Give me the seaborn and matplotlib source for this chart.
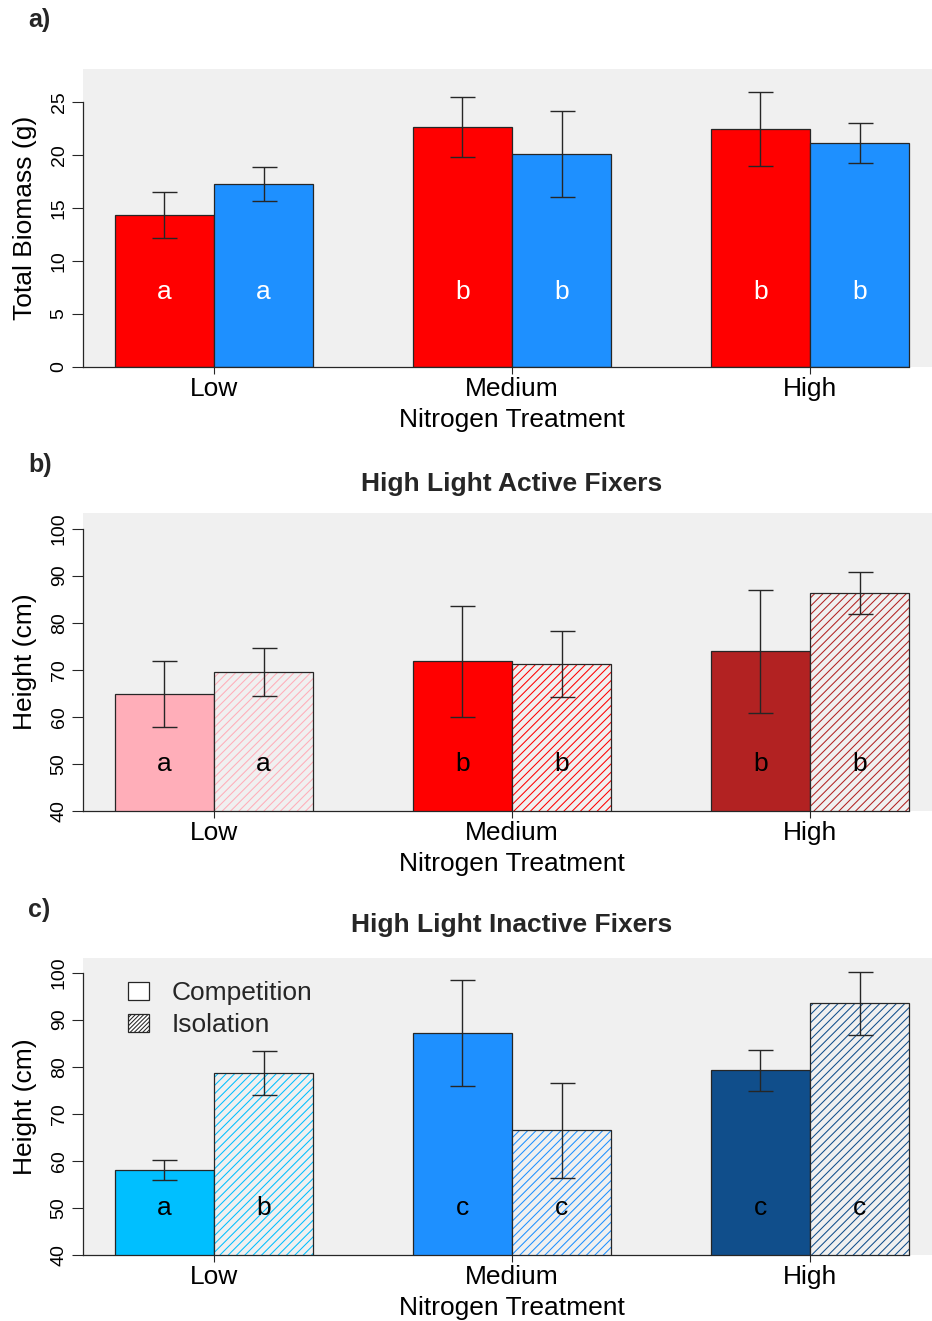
import numpy as np
import pandas as pd
import matplotlib
matplotlib.use("Agg")
import matplotlib.pyplot as plt
from matplotlib.colors import to_rgba
from matplotlib.patches import Patch
import seaborn as sns

# ---------------------------------------------------------------- data
nitrogen = ["Low", "Medium", "High"]

# a) total biomass (g), means and standard errors
biomass_groups = ["Active", "Inactive"]
biomass_active = [14.3, 22.6, 22.4]
biomass_active_se = [2.2, 2.85, 3.5]
biomass_inactive = [17.2, 20.1, 21.1]
biomass_inactive_se = [1.6, 4.05, 1.9]
biomass_letters_active = ["a", "b", "b"]
biomass_letters_inactive = ["a", "b", "b"]

# b) high light active fixers, height (cm)
treatments = ["Competition", "Isolation"]
active_comp = [64.9, 71.8, 73.9]
active_comp_se = [7.0, 11.8, 13.0]
active_iso = [69.6, 71.3, 86.3]
active_iso_se = [5.1, 7.0, 4.4]
active_letters_comp = ["a", "b", "b"]
active_letters_iso = ["a", "b", "b"]

# c) high light inactive fixers, height (cm)
inactive_comp = [58.1, 87.2, 79.2]
inactive_comp_se = [2.15, 11.2, 4.4]
inactive_iso = [78.7, 66.5, 93.5]
inactive_iso_se = [4.7, 10.1, 6.7]
inactive_letters_comp = ["a", "c", "c"]
inactive_letters_iso = ["b", "c", "c"]

# ---------------------------------------------------------------- style
BG = "#F0F0F0"
INK = "#262626"
FONT = ["Liberation Sans", "DejaVu Sans"]
FS = 19

sns.set_theme(style="white")
plt.rcParams["font.family"] = FONT
plt.rcParams["hatch.linewidth"] = 0.75
plt.rcParams["axes.linewidth"] = 0.9

fig = plt.figure(figsize=(9.32, 13.21), dpi=100)

W, H = 932.0, 1321.0
LEFT_PX, RIGHT_PX = 83.0, 941.0


def make_axes(top_px, bottom_px):
    return fig.add_axes([LEFT_PX / W, 1 - bottom_px / H,
                         (RIGHT_PX - LEFT_PX) / W, (bottom_px - top_px) / H])


def set_hatch_color(bar, color):
    if hasattr(bar, "set_hatchcolor"):
        bar.set_hatchcolor(color)
    else:
        bar._hatch_color = to_rgba(color)
    bar.stale = True


def draw_panel(ax, comp, comp_se, iso, iso_se, comp_colors, iso_colors,
               hatched, letters_c, letters_i, letter_color, letter_y,
               ylim, yticks, ylabel, hue_names):
    df = pd.DataFrame({
        "Nitrogen": nitrogen * 2,
        "Group": [hue_names[0]] * 3 + [hue_names[1]] * 3,
        "Value": list(comp) + list(iso),
    })
    sns.barplot(data=df, x="Nitrogen", y="Value", hue="Group",
                order=nitrogen, hue_order=hue_names, width=2 / 3, gap=0,
                errorbar=None, palette=[comp_colors[0], iso_colors[0]],
                saturation=1, edgecolor=INK, linewidth=0.9, legend=False,
                ax=ax)
    ax.set_facecolor(BG)

    for cont, colors, errs, letters, hatch in zip(
            ax.containers, [comp_colors, iso_colors], [comp_se, iso_se],
            [letters_c, letters_i], [False, hatched]):
        xs, ys = [], []
        for bar, col, lab in zip(cont.patches, colors, letters):
            cx = bar.get_x() + bar.get_width() / 2
            if hatch:
                bar.set_facecolor(BG)
                bar.set_hatch("////")
                bar.set_edgecolor(INK)
                set_hatch_color(bar, col)
            else:
                bar.set_facecolor(col)
            xs.append(cx)
            ys.append(bar.get_height())
            ax.text(cx, letter_y, lab, ha="center", va="center",
                    fontsize=FS, color=letter_color, zorder=5)
        ax.errorbar(xs, ys, yerr=errs, fmt="none", ecolor=INK,
                    elinewidth=1.0, capsize=9, capthick=1.0, zorder=6)

    ax.set_xlim(-0.44, 2.44)
    ax.set_ylim(*ylim)
    ax.set_yticks(yticks)
    ax.set_yticklabels([str(t) for t in yticks])
    for s in ("top", "right"):
        ax.spines[s].set_visible(False)
    ax.spines["left"].set_bounds(yticks[0], yticks[-1])
    last = ax.containers[1].patches[-1]
    ax.spines["bottom"].set_bounds(-0.44, last.get_x() + last.get_width())
    for s in ("left", "bottom"):
        ax.spines[s].set_color(INK)
        ax.spines[s].set_linewidth(0.9)

    ax.tick_params(axis="y", left=True, length=8, width=0.8, color=INK,
                   labelsize=14, labelrotation=90, pad=3, labelcolor="black")
    ax.tick_params(axis="x", bottom=True, length=5, width=0.8, color=INK,
                   labelsize=FS, pad=2.5, labelcolor="black")
    for lab in ax.get_yticklabels():
        lab.set_va("center")
    ax.set_xlabel("Nitrogen Treatment", fontsize=FS, labelpad=5,
                  color="black")
    ax.set_ylabel(ylabel, fontsize=FS, labelpad=10, color="black")


# a) ------------------------------------------------------------------
ax_a = make_axes(69.0, 366.7)
draw_panel(ax_a, biomass_active, biomass_active_se,
           biomass_inactive, biomass_inactive_se,
           ["#FF0000"] * 3, ["#1E90FF"] * 3, False,
           biomass_letters_active, biomass_letters_inactive, "white", 7.0,
           (0, 28.08), [0, 5, 10, 15, 20, 25], "Total Biomass (g)",
           biomass_groups)

# b) ------------------------------------------------------------------
ax_b = make_axes(513.0, 811.0)
draw_panel(ax_b, active_comp, active_comp_se, active_iso, active_iso_se,
           ["#FFAEB9", "#FF0000", "#B22222"],
           ["#FFAEB9", "#FF0000", "#B22222"], True,
           active_letters_comp, active_letters_iso, "black", 50.0,
           (40, 103.3), [40, 50, 60, 70, 80, 90, 100], "Height (cm)",
           treatments)
ax_b.text(0.5, 1.074, "High Light Active Fixers", transform=ax_b.transAxes,
          ha="center", va="baseline", fontsize=FS, fontweight="bold")

# c) ------------------------------------------------------------------
ax_c = make_axes(958.0, 1255.0)
draw_panel(ax_c, inactive_comp, inactive_comp_se, inactive_iso,
           inactive_iso_se,
           ["#00BFFF", "#1E90FF", "#104E8B"],
           ["#00BFFF", "#1E90FF", "#104E8B"], True,
           inactive_letters_comp, inactive_letters_iso, "black", 50.0,
           (40, 103.1), [40, 50, 60, 70, 80, 90, 100], "Height (cm)",
           treatments)
ax_c.text(0.5, 1.0875, "High Light Inactive Fixers", transform=ax_c.transAxes,
          ha="center", va="baseline", fontsize=FS, fontweight="bold")

handles = [Patch(facecolor="white", edgecolor=INK, linewidth=0.9),
           Patch(facecolor="white", edgecolor=INK, linewidth=0.9,
                 hatch="////////")]
ax_c.legend(handles, treatments, loc="upper left",
            bbox_to_anchor=(0.052, 0.922), frameon=False, fontsize=FS,
            handlelength=0.8, handleheight=0.7, handletextpad=0.85,
            labelspacing=0.3, borderpad=0, borderaxespad=0)

# panel tags
for tag, ypx in (("a)", 20), ("b)", 465), ("c)", 910)):
    fig.text(28 / W, 1 - ypx / H, tag, ha="left", va="center",
             fontsize=18, fontweight="bold")

fig.savefig("out.png", dpi=100)
